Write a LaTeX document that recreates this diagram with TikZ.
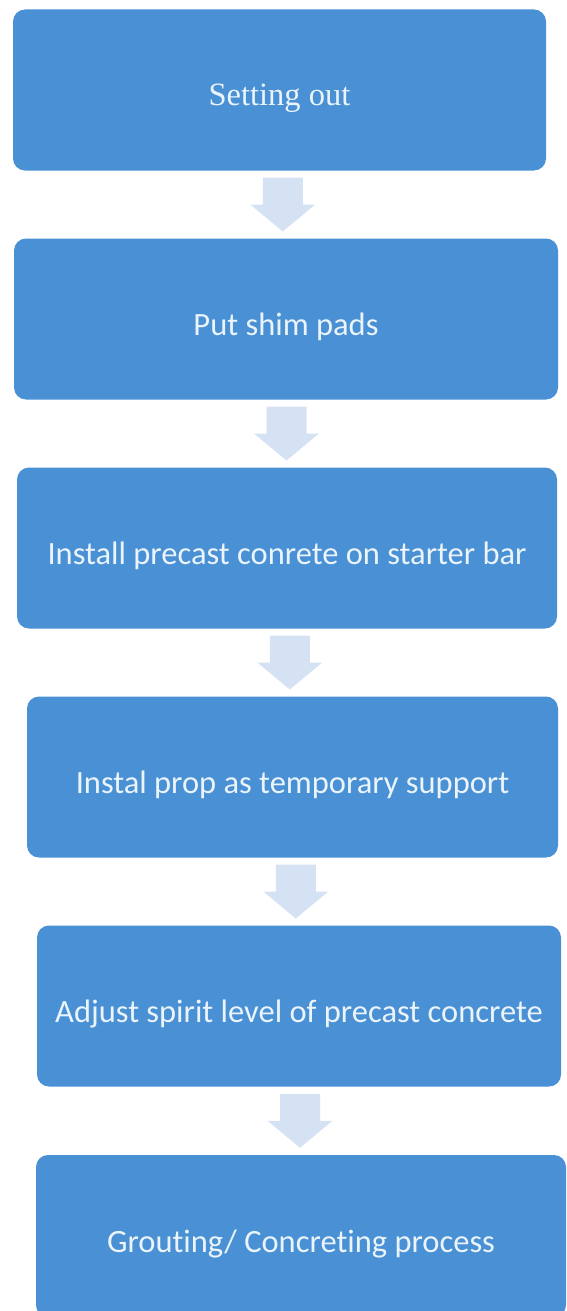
\documentclass[tikz,border=0pt]{standalone}
\usepackage{fontspec}
\setmainfont[Ligatures=NoCommon]{Carlito}
\newfontfamily\timesfont{Liberation Serif}
\usepackage{tikz}
\usetikzlibrary{positioning, calc}

\definecolor{stepblue}{RGB}{74,144,212}
\definecolor{arrowblue}{RGB}{212,226,244}
\definecolor{steptext}{RGB}{234,244,250}

\begin{document}
\begin{tikzpicture}[
    x=1pt, y=-1pt,
    stepbox/.style={rectangle, rounded corners=12pt, fill=stepblue, minimum height=161pt, text height=40pt, text depth=8pt, align=center, text=steptext, font=\fontsize{32.5}{38}\selectfont},
    flowarrow/.style={fill=arrowblue}
]

\useasboundingbox (0,0) rectangle (567,1311);

% Steps
\node[stepbox, minimum width=533pt] (setout) at (279.5, 90) {\timesfont Setting out};
\node[stepbox, minimum width=544pt] (shim) at (286, 319) {Put shim pads};
\node[stepbox, minimum width=540pt] (install) at (287, 548) {Install precast conrete on starter bar};
\node[stepbox, minimum width=531pt] (prop) at (292.5, 777) {Instal prop as temporary support};
\node[stepbox, minimum width=524pt] (level) at (299, 1006) {Adjust spirit level of precast concrete};
\node[stepbox, minimum width=530pt, minimum height=162pt] (grout) at (301, 1236) {Grouting/ Concreting process};

% Block arrows
\foreach \a/\b in {setout/shim, shim/install, install/prop, prop/level, level/grout}
    \path[flowarrow] ($(\a.south)!0.5!(\b.north)$) ++(-20,-27) -- ++(40,0) -- ++(0,27)
        -- ++(12.5,0) -- ++(-32.5,27) -- ++(-32.5,-27) -- ++(12.5,0) -- cycle;

\end{tikzpicture}
\end{document}
